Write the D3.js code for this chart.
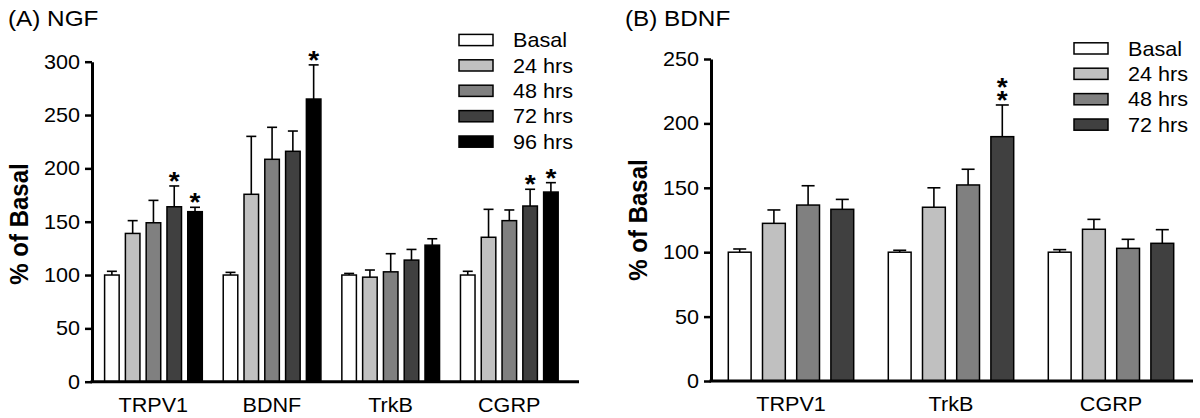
<!DOCTYPE html>
<html><head><meta charset="utf-8">
<script src="https://cdn.jsdelivr.net/npm/d3@7"></script>
<style>
body{margin:0;background:#fff;}
svg{display:block;font-family:"Liberation Sans",Arial,Helvetica,sans-serif;}
</style></head><body>
<svg id="chart" width="1200" height="418"></svg>
<script>
// ---------- DATA ----------
const seriesA = ["Basal","24 hrs","48 hrs","72 hrs","96 hrs"];
const categoriesA = ["TRPV1","BDNF","TrkB","CGRP"];
const basalA = [100,100,100,100];
const h24A   = [139,175.7,98,135.4];
const h48A   = [149,208.5,103,151];
const h72A   = [164,216,114,164.7];
const h96A   = [159.4,265,128,177.8];
const errBasalA = [3.5,2.5,1.5,3.5];
const err24A    = [12,54.3,6.7,26.2];
const err48A    = [21,30,17,10];
const err72A    = [19.5,19,10,15.7];
const err96A    = [4.1,32,6,8.8];
const starsA = [["TRPV1","72 hrs",1],["TRPV1","96 hrs",1],["BDNF","96 hrs",1],["CGRP","72 hrs",1],["CGRP","96 hrs",1]];
const ticksA = [0,50,100,150,200,250,300];

const seriesB = ["Basal","24 hrs","48 hrs","72 hrs"];
const categoriesB = ["TRPV1","TrkB","CGRP"];
const basalB = [100,100,100];
const h24B   = [122.4,134.9,117.8];
const h48B   = [136.6,152.2,103];
const h72B   = [133.3,189.7,106.9];
const errBasalB = [2.5,1.5,2];
const err24B    = [10.4,15.1,7.7];
const err48B    = [15,12.2,7];
const err72B    = [7.7,24.6,10.6];
const starsB = [["TrkB","72 hrs",2]];
const ticksB = [0,50,100,150,200,250];

const colors = {"Basal":"#ffffff","24 hrs":"#c0c0c0","48 hrs":"#808080","72 hrs":"#404040","96 hrs":"#000000"};

// ---------- DRAW ----------
const SX = 1.08;
const svg = d3.select("#chart");

function hText(g, x, y, str, size, anchor, weight){
  return g.append("text")
    .attr("transform", `translate(${x},${y}) scale(${SX},1)`)
    .attr("font-size", size)
    .attr("text-anchor", anchor || "start")
    .attr("font-weight", weight || "normal")
    .attr("fill", "#000")
    .text(str);
}

function drawPanel(cfg){
  const g = svg.append("g");
  const y = d3.scaleLinear().domain([0, cfg.yMax]).range([cfg.y0, cfg.yTop]);
  const x0 = d3.scaleBand().domain(cfg.categories).range(cfg.xRange).padding(0);
  const x1 = d3.scaleBand().domain(cfg.series).range(cfg.innerRange).paddingInner(cfg.innerPad);

  const vals = {}; const errs = {};
  cfg.series.forEach((s,j)=>{ vals[s]=cfg.values[j]; errs[s]=cfg.errors[j]; });

  // bars + error bars
  cfg.categories.forEach((c,i)=>{
    cfg.series.forEach(s=>{
      const v = vals[s][i], e = errs[s][i];
      const bx = x0(c)+x1(s), bw = x1.bandwidth(), cx = bx+bw/2;
      g.append("line").attr("x1",cx).attr("x2",cx).attr("y1",y(v)).attr("y2",y(v+e))
        .attr("stroke","#000").attr("stroke-width",1.6);
      g.append("line").attr("x1",cx-cfg.cap).attr("x2",cx+cfg.cap).attr("y1",y(v+e)).attr("y2",y(v+e))
        .attr("stroke","#000").attr("stroke-width",1.6);
      g.append("rect").attr("x",bx).attr("y",y(v)).attr("width",bw).attr("height",y(0)-y(v))
        .attr("fill",colors[s]).attr("stroke","#000").attr("stroke-width",1.5);
    });
  });

  // stars (one text per bar, stacked stars as tspans)
  cfg.stars.forEach(([c,s,n])=>{
    const i = cfg.categories.indexOf(c);
    const top = y(vals[s][i]+errs[s][i]);
    const cx = x0(c)+x1(s)+x1.bandwidth()/2;
    const t = hText(g, cx, top+4-(n-1)*13, "", 26, "middle", "bold");
    for(let k=0;k<n;k++){
      t.append("tspan").attr("x",0).attr("dy", k===0?0:13).text("*");
    }
  });

  // y axis
  const ya = g.append("g").attr("transform",`translate(${cfg.axX},0)`)
    .call(d3.axisLeft(y).tickValues(cfg.ticks).tickSize(7).tickSizeOuter(0).tickPadding(5));
  ya.select(".domain").attr("stroke","#000").attr("stroke-width",3);
  ya.selectAll(".tick line").attr("stroke","#000").attr("stroke-width",2.5);
  ya.selectAll(".tick text").attr("font-size",20).attr("fill","#000")
    .attr("font-family",null)
    .attr("x",-12/SX).attr("transform",`scale(${SX},1)`);

  // x axis
  const xa = g.append("g").attr("transform",`translate(0,${cfg.y0})`)
    .call(d3.axisBottom(x0).tickSize(0).tickPadding(16));
  xa.select(".domain").remove();
  xa.selectAll(".tick text").attr("font-size",20).attr("fill","#000")
    .attr("font-family",null)
    .attr("transform",`scale(${SX},1)`);
  g.append("line").attr("x1",cfg.axX-1.5).attr("x2",cfg.xEnd).attr("y1",cfg.y0).attr("y2",cfg.y0)
    .attr("stroke","#000").attr("stroke-width",3);

  // y label
  g.append("text")
    .attr("transform",`translate(${cfg.ylabX},${cfg.ylabY}) rotate(-90) scale(1,${SX})`)
    .attr("text-anchor","middle").attr("font-size",24).attr("font-weight","bold")
    .text("% of Basal");

  // title
  hText(g, cfg.titleX, 26, cfg.title, 22.5);

  // legend
  cfg.series.forEach((s,j)=>{
    const cy = cfg.legY + j*25.4;
    g.append("rect").attr("x",cfg.legX).attr("y",cy-5.6).attr("width",34).attr("height",11.2)
      .attr("fill",colors[s]).attr("stroke","#000").attr("stroke-width",1.5);
    hText(g, cfg.legX+54, cy+7.2, s, 20);
  });
}

drawPanel({
  title:"(A) NGF", titleX:8,
  categories:categoriesA, series:seriesA,
  values:[basalA,h24A,h48A,h72A,h96A],
  errors:[errBasalA,err24A,err48A,err72A,err96A],
  stars:starsA, ticks:ticksA, yMax:300,
  y0:381.7, yTop:61.7, axX:92, xRange:[94,568.5], xEnd:579,
  innerRange:[10.6,108.3], innerPad:0.3, cap:5,
  ylabX:28, ylabY:224, legX:459, legY:40
});

drawPanel({
  title:"(B) BDNF", titleX:625,
  categories:categoriesB, series:seriesB,
  values:[basalB,h24B,h48B,h72B],
  errors:[errBasalB,err24B,err48B,err72B],
  stars:starsB, ticks:ticksB, yMax:250,
  y0:381, yTop:59, axX:711, xRange:[711,1191], xEnd:1193,
  innerRange:[17.3,142.7], innerPad:0.333, cap:6.5,
  ylabX:647, ylabY:220, legX:1074, legY:48.4
});
</script>
</body></html>
